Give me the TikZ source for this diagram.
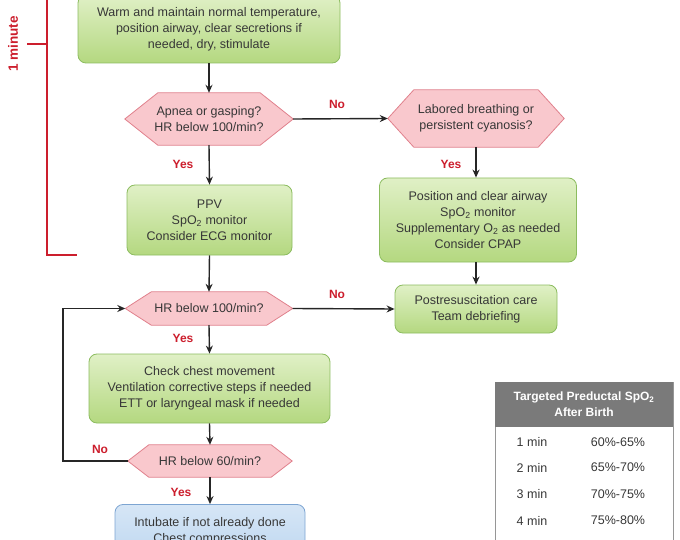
\documentclass[tikz,border=0pt]{standalone}
\usepackage{fontspec}
\setmainfont{Liberation Sans}
\usetikzlibrary{arrows.meta,backgrounds}
\definecolor{txt}{RGB}{55,55,55}
\definecolor{gtop}{RGB}{224,240,198}
\definecolor{gbot}{RGB}{180,216,128}
\definecolor{gline}{RGB}{140,188,95}
\definecolor{pfill}{RGB}{249,200,205}
\definecolor{pline}{RGB}{224,128,140}
\definecolor{btop}{RGB}{214,230,246}
\definecolor{bbot}{RGB}{190,215,240}
\definecolor{bline}{RGB}{125,165,210}
\definecolor{lab}{RGB}{204,30,45}
\definecolor{hdr}{RGB}{122,122,122}
\definecolor{tline}{RGB}{150,150,150}
\newcommand\hexout[2]{%
  \filldraw[hexline] (#1.west) -- ([xshift=#2]#1.north west) -- ([xshift=-#2]#1.north east)
    -- (#1.east) -- ([xshift=-#2]#1.south east) -- ([xshift=#2]#1.south west) -- cycle;}
\begin{document}
\begin{tikzpicture}[x=1pt,y=-1pt,
  every node/.style={font=\fontsize{12.5}{16}\selectfont, text=txt, inner sep=0pt, align=center},
  gbox/.style={rectangle, rounded corners=8pt, draw=gline, line width=0.8pt, top color=gtop, bottom color=gbot},
  bbox/.style={rectangle, rounded corners=8pt, draw=bline, line width=0.8pt, top color=btop, bottom color=bbot},
  hexnode/.style={rectangle},
  hexline/.style={fill=pfill, draw=pline, line width=0.8pt},
  lbl/.style={font=\fontsize{12}{14}\selectfont\bfseries, text=lab},
  arr/.style={-{Stealth[length=8pt,width=7pt]}, line width=1.4pt, black!85},
  bracket/.style={draw=lab, line width=1.5pt},
  cell/.style={font=\fontsize{12.5}{16}\selectfont}
]
\useasboundingbox (0,0) rectangle (680,540);
\clip (0,0) rectangle (680,540);

% bracket
\draw[bracket] (47,-5) -- (47,255) -- (77,255);
\draw[bracket] (27,44) -- (47,44);
\node[lbl, rotate=90, font=\fontsize{13.5}{14}\selectfont\bfseries] (oneminute) at (13,44) {1 minute};

% nodes
\node[gbox, minimum width=262pt, minimum height=68pt] (top) at (209,29) {Warm and maintain normal temperature,\\position airway, clear secretions if\\needed, dry, stimulate};

\node[hexnode, minimum width=168pt, minimum height=52pt] (hex1) at (209,119) {Apnea or gasping?\\HR below 100/min?};
\node[hexnode, minimum width=176pt, minimum height=57pt] (hex2) at (476,118.5) {Labored breathing or\\persistent cyanosis?};

\node[gbox, minimum width=165pt, minimum height=70pt] (ppv) at (209.5,220) {PPV\\SpO\textsubscript{2} monitor\\Consider ECG monitor};
\node[gbox, minimum width=197pt, minimum height=84pt] (right1) at (478,220) {Position and clear airway\\SpO\textsubscript{2} monitor\\Supplementary O\textsubscript{2} as needed\\Consider CPAP};

\node[hexnode, minimum width=167pt, minimum height=33pt] (hex3) at (209,308.5) {HR below 100/min?};
\node[gbox, minimum width=162pt, minimum height=48pt] (post) at (476,309) {Postresuscitation care\\Team debriefing};

\node[gbox, minimum width=241pt, minimum height=69pt] (chest) at (209.5,388.5) {Check chest movement\\Ventilation corrective steps if needed\\ETT or laryngeal mask if needed};

\node[hexnode, minimum width=164pt, minimum height=32pt] (hex4) at (210,461) {HR below 60/min?};

\node[bbox, minimum width=190pt, minimum height=54pt] (blue) at (210,531.5) {Intubate if not already done\\Chest compressions};

\begin{scope}[on background layer]
\hexout{hex1}{33pt}
\hexout{hex2}{26pt}
\hexout{hex3}{26pt}
\hexout{hex4}{21pt}
\end{scope}

% connectors
\draw[arr] (top.south) -- (hex1.north);
\draw[arr] (hex1.east) -- (hex2.west);
\draw[arr] (hex1.south) -- (ppv.north);
\draw[arr] (hex2.south) -- (hex2.south |- right1.north);
\draw[arr] (ppv.south) -- (hex3.north);
\draw[arr] (hex3.east) -- (post.west);
\draw[arr] (right1.south -| post.north) -- (post.north);
\draw[arr] (hex3.south) -- (chest.north);
\draw[arr] (chest.south) -- (hex4.north);
\draw[arr] (hex4.south) -- (blue.north);
\coordinate (loopx) at (63,400);
\draw[arr] (hex4.west) -- (hex4.west -| loopx) -- (hex3.west -| loopx) -- (hex3.west);

% labels
\node[lbl] (no1) at (337,104) {No};
\node[lbl] (yes2) at (451,164) {Yes};
\node[lbl] (yes1) at (183,164) {Yes};
\node[lbl] (no3) at (337,294) {No};
\node[lbl] (yes3) at (183,338) {Yes};
\node[lbl] (no4) at (100,449) {No};
\node[lbl] (yes4) at (181,492) {Yes};

% table
\draw[tline, line width=0.8pt] (495,382) rectangle (673,570);
\node[fill=hdr, minimum width=178pt, minimum height=45pt, text=white, font=\fontsize{12}{16}\selectfont\bfseries] (hdr) at (584,404.5) {Targeted Preductal SpO\textsubscript{2}\\After Birth};
\node[cell] (m1) at (532,442) {1 min};
\node[cell] (p1) at (618,442) {60\%-65\%};
\node[cell] (m2) at (532,467.5) {2 min};
\node[cell] (p2) at (618,467.5) {65\%-70\%};
\node[cell] (m3) at (532,494) {3 min};
\node[cell] (p3) at (618,494) {70\%-75\%};
\node[cell] (m4) at (532,520.5) {4 min};
\node[cell] (p4) at (618,520.5) {75\%-80\%};
\end{tikzpicture}
\end{document}
